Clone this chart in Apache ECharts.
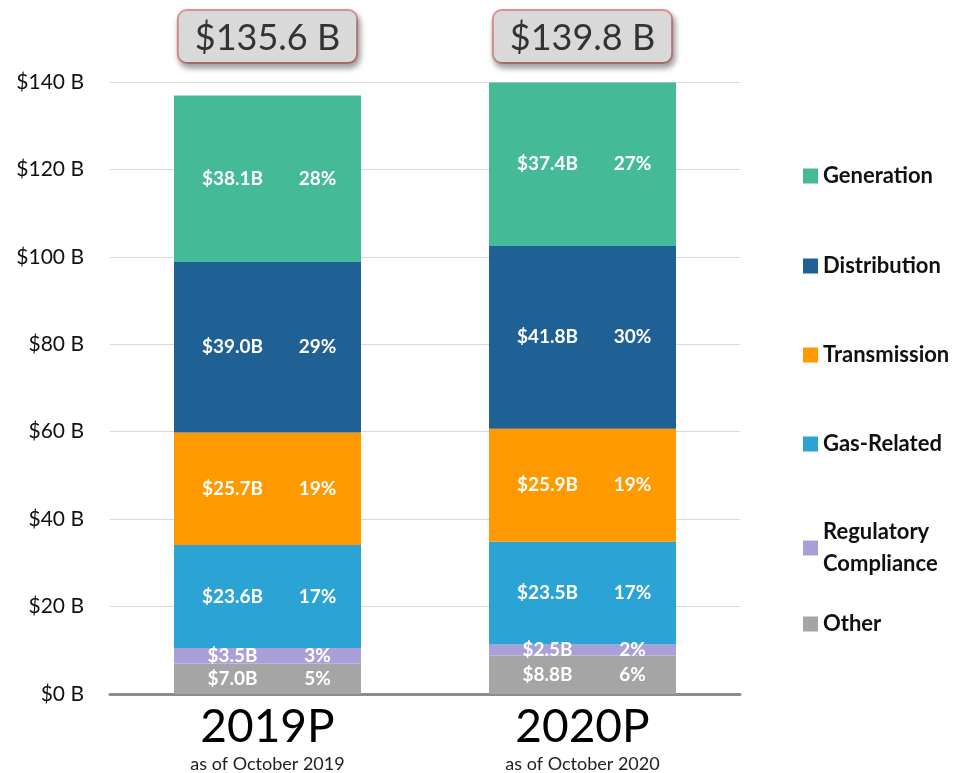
<!DOCTYPE html>
<html>
<head>
<meta charset="utf-8">
<script src="https://cdn.jsdelivr.net/npm/echarts@6/dist/echarts.min.js"></script>
<style>
  html, body { margin: 0; padding: 0; background: #fff; }
  #chart { width: 966px; height: 773px; }
</style>
</head>
<body>
<div id="chart"></div>
<script>
const years = ['2019P', '2020P'];
const asOf = ['as of October 2019', 'as of October 2020'];
const totals = ['$135.6 B', '$139.8 B'];
const yTicks = [0, 20, 40, 60, 80, 100, 120, 140];

// bottom to top
const segNames = ['Other', 'Regulatory Compliance', 'Gas-Related', 'Transmission', 'Distribution', 'Generation'];
const other = [7.0, 8.8];
const regulatory = [3.5, 2.5];
const gasRelated = [23.6, 23.5];
const transmission = [25.7, 25.9];
const distribution = [39.0, 41.8];
const generation = [38.1, 37.4];

const otherPct = [5, 6];
const regulatoryPct = [3, 2];
const gasPct = [17, 17];
const transmissionPct = [19, 19];
const distributionPct = [29, 30];
const generationPct = [28, 27];

const colors = ['#a5a5a5', '#ab9fd7', '#2ca3d5', '#ff9900', '#1f6095', '#44bb96'];

const values = [other, regulatory, gasRelated, transmission, distribution, generation];
const pcts = [otherPct, regulatoryPct, gasPct, transmissionPct, distributionPct, generationPct];

const legendTops = [603, 511, 423, 334, 245, 155];
const legendNames = ['Other', 'Regulatory\nCompliance', 'Gas-Related', 'Transmission', 'Distribution', 'Generation'];

const chart = echarts.init(document.getElementById('chart'));

const font = 'Lato, "Open Sans", sans-serif';

const series = segNames.map((name, i) => ({
  name: legendNames[i],
  type: 'bar',
  stack: 'total',
  barWidth: 187,
  data: values[i],
  itemStyle: { color: colors[i] },
  label: {
    show: true,
    position: 'inside',
    formatter: (p) => '{a|$' + p.value.toFixed(1) + 'B}{b|' + pcts[i][p.dataIndex] + '%}',
    rich: {
      a: { width: 100, align: 'center', color: '#fff', fontSize: 19, fontWeight: 'bold', fontFamily: font },
      b: { width: 70, align: 'center', color: '#fff', fontSize: 19, fontWeight: 'bold', fontFamily: font }
    }
  }
}));

const legends = legendNames.map((n, i) => ({
  data: [n],
  left: 798,
  top: legendTops[i],
  orient: 'vertical',
  icon: 'rect',
  itemWidth: 15,
  itemHeight: 15,
  itemGap: 0,
  selectedMode: false,
  textStyle: { fontSize: 22, fontWeight: 'bold', color: '#111', fontFamily: font, lineHeight: 32 }
}));

chart.setOption({
  animation: false,
  grid: { left: 110, right: 226, top: 82, bottom: 79 },
  legend: legends,
  xAxis: [
    {
      type: 'category',
      data: years,
      axisTick: { show: false },
      axisLine: { lineStyle: { color: '#8c8c8c', width: 3 } },
      axisLabel: {
        margin: 8,
        formatter: (v, i) => '{y|' + v + '}\n{s|' + asOf[i] + '}',
        rich: {
          y: { fontSize: 46, lineHeight: 50, color: '#000', fontFamily: font },
          s: { fontSize: 18, lineHeight: 24, color: '#222', fontFamily: font }
        }
      }
    },
    {
      type: 'category',
      position: 'top',
      data: years,
      axisTick: { show: false },
      axisLine: { show: false },
      axisLabel: {
        margin: 20,
        formatter: (v, i) => totals[i],
        fontSize: 36,
        color: '#333',
        fontFamily: font,
        backgroundColor: '#d9d9d9',
        borderColor: '#e09494',
        borderWidth: 2,
        borderRadius: 8,
        padding: [9, 16, 6, 16],
        shadowColor: 'rgba(0,0,0,0.35)',
        shadowBlur: 6,
        shadowOffsetX: 2,
        shadowOffsetY: 4
      }
    }
  ],
  yAxis: {
    type: 'value',
    min: yTicks[0],
    max: yTicks[yTicks.length - 1],
    interval: 20,
    axisLine: { show: false },
    axisTick: { show: false },
    splitLine: { lineStyle: { color: '#d9d9d9', width: 1 } },
    axisLabel: {
      margin: 26,
      fontSize: 21,
      color: '#111',
      fontFamily: font,
      formatter: (v) => '$' + v + ' B'
    }
  },
  series: series
});
</script>
</body>
</html>
